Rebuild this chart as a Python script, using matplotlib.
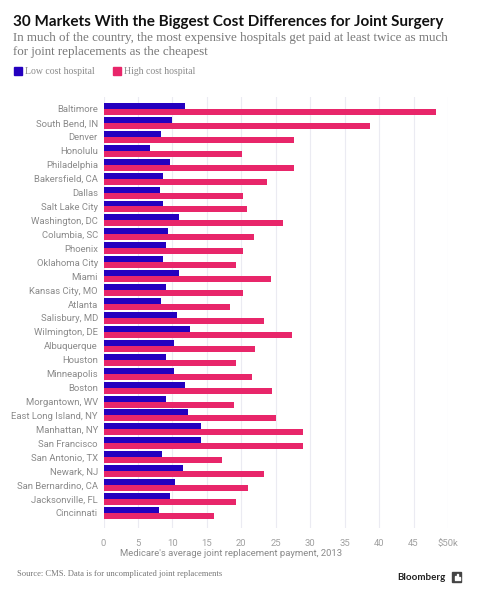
import matplotlib
matplotlib.use("Agg")
import matplotlib.pyplot as plt
from matplotlib.patches import Rectangle
import numpy as np

# Data (thousands of dollars)
markets = ["Baltimore", "South Bend, IN", "Denver", "Honolulu", "Philadelphia",
           "Bakersfield, CA", "Dallas", "Salt Lake City", "Washington, DC",
           "Columbia, SC", "Phoenix", "Oklahoma City", "Miami", "Kansas City, MO",
           "Atlanta", "Salisbury, MD", "Wilmington, DE", "Albuquerque", "Houston",
           "Minneapolis", "Boston", "Morgantown, WV", "East Long Island, NY",
           "Manhattan, NY", "San Francisco", "San Antonio, TX", "Newark, NJ",
           "San Bernardino, CA", "Jacksonville, FL", "Cincinnati"]
low_cost = [11.9, 9.9, 8.4, 6.8, 9.6, 8.7, 8.2, 8.6, 10.9, 9.3, 9.0, 8.6, 10.9, 9.0,
            8.4, 10.6, 12.5, 10.3, 9.0, 10.3, 11.9, 9.1, 12.2, 14.1, 14.2, 8.5, 11.5,
            10.4, 9.6, 8.0]
high_cost = [48.3, 38.7, 27.7, 20.1, 27.7, 23.7, 20.2, 20.8, 26.0, 21.9, 20.2, 19.2,
             24.3, 20.3, 18.4, 23.3, 27.3, 22.0, 19.3, 21.6, 24.4, 18.9, 25.1, 28.9,
             29.0, 17.2, 23.3, 20.9, 19.2, 16.0]
tick_vals = [0, 5, 10, 15, 20, 25, 30, 35, 40, 45, 50]
tick_labels = ["0", "5", "10", "15", "20", "25", "30", "35", "40", "45", "$50k"]

BLUE = "#2400bf"
PINK = "#e8266a"
GREY = "#8a8a8a"

fig = plt.figure(figsize=(4.78, 6.0), dpi=100)
ax = fig.add_axes([103.5 / 478, 1 - 528 / 600, (448 - 103.5) / 478, (528 - 97) / 600])

y = np.arange(len(markets))
h = 0.43
ax.barh(y - h / 2, low_cost, height=h, color=BLUE, zorder=3)
ax.barh(y + h / 2, high_cost, height=h, color=PINK, zorder=3)

ax.set_xlim(0, 50)
ax.set_ylim(len(markets) - 1 + 1.08, -0.86)
ax.set_yticks(y)
ax.set_yticklabels(markets, fontsize=6.8, color=GREY, family="Roboto")
ax.set_xticks(tick_vals)
ax.set_xticklabels(tick_labels, fontsize=6.8, color="#a0a0a0", family="Roboto")
ax.tick_params(length=0)
ax.tick_params(axis="y", pad=4)
ax.tick_params(axis="x", pad=8)
for s in ax.spines.values():
    s.set_visible(False)
ax.grid(axis="x", color="#ebebf2", linewidth=0.8, zorder=0)

fig.text(231 / 478, 1 - 553 / 600, "Medicare's average joint replacement payment, 2013",
         ha="center", va="center", fontsize=6.8, color=GREY, family="Roboto")

# title block
fig.text(13 / 478, 1 - 22 / 600, "30 Markets With the Biggest Cost Differences for Joint Surgery",
         ha="left", va="center", fontsize=11.0, fontweight="bold", color="#111111", family="Lato")
fig.text(13 / 478, 1 - 38.5 / 600,
         "In much of the country, the most expensive hospitals get paid at least twice as much",
         ha="left", va="center", fontsize=9.4, color="#777777", family="Liberation Serif")
fig.text(13 / 478, 1 - 52.5 / 600, "for joint replacements as the cheapest",
         ha="left", va="center", fontsize=9.4, color="#777777", family="Liberation Serif")

# legend
fig.patches.append(Rectangle((14 / 478, 1 - 75 / 600), 8 / 478, 8 / 600,
                             transform=fig.transFigure, color=BLUE))
fig.text(25 / 478, 1 - 71.5 / 600, "Low cost hospital", ha="left", va="center",
         fontsize=7.0, color=GREY, family="Liberation Serif")
fig.patches.append(Rectangle((113 / 478, 1 - 75 / 600), 8 / 478, 8 / 600,
                             transform=fig.transFigure, color=PINK))
fig.text(124 / 478, 1 - 71.5 / 600, "High cost hospital", ha="left", va="center",
         fontsize=7.0, color=GREY, family="Liberation Serif")

# footer
fig.text(17 / 478, 1 - 574 / 600, "Source: CMS. Data is for uncomplicated joint replacements",
         ha="left", va="center", fontsize=6.1, color="#777777", family="Liberation Serif")
fig.text(446 / 478, 1 - 577 / 600, "Bloomberg", ha="right", va="center",
         fontsize=7.0, fontweight="bold", color="#222222", family="Lato")
fig.patches.append(Rectangle((452 / 478, 1 - 582 / 600), 9 / 478, 10 / 600,
                             transform=fig.transFigure, color="#444444"))
for bx, bh in [(454.5, 4), (456.5, 6), (458.5, 3)]:
    fig.patches.append(Rectangle((bx / 478, 1 - 580 / 600), 1 / 478, bh / 600,
                                 transform=fig.transFigure, color="white"))

fig.savefig("out.png", dpi=100)
